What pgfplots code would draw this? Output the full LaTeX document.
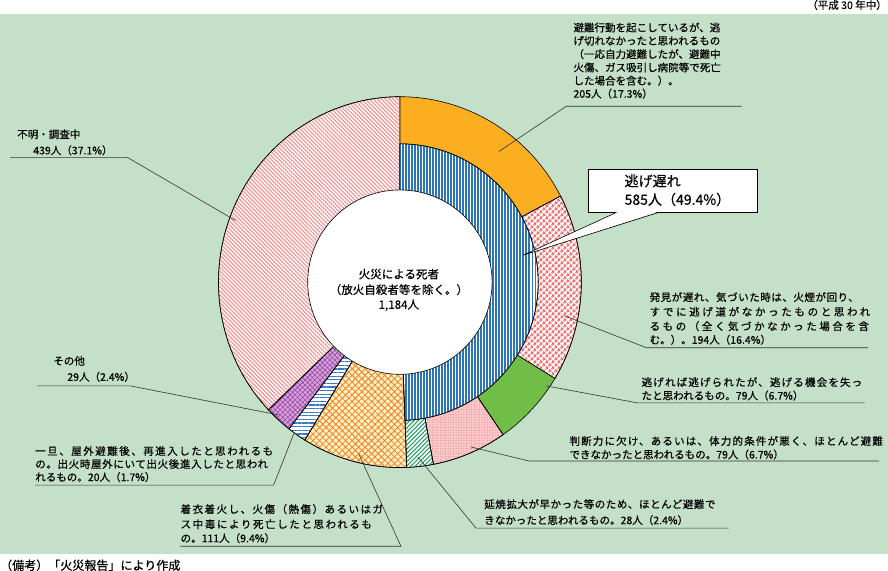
\documentclass[border=0pt]{standalone}
\usepackage{pgfplots}
\pgfplotsset{compat=1.18}
\usepackage{fontspec}
\setmainfont{Noto Sans CJK JP}[FakeBold=0.5]
\usetikzlibrary{patterns.meta}

\definecolor{bg}{RGB}{197,224,201}
\definecolor{cOrange}{RGB}{250,174,32}
\definecolor{cGreen}{RGB}{112,189,72}
\definecolor{cBlue}{RGB}{46,117,182}
\definecolor{cRed}{RGB}{240,100,100}
\definecolor{cPinkF}{RGB}{250,200,200}
\definecolor{cPinkD}{RGB}{238,120,120}
\definecolor{cTeal}{RGB}{34,158,96}
\definecolor{cOrF}{RGB}{255,240,190}
\definecolor{cOrL}{RGB}{245,128,40}
\definecolor{cBlue2}{RGB}{60,120,190}
\definecolor{cPurF}{RGB}{216,162,218}
\definecolor{cPurL}{RGB}{150,70,165}
\definecolor{cPale}{RGB}{244,150,150}

% counts (persons)
\def\nA{205}\def\nB{194}\def\nC{79}\def\nD{79}\def\nE{28}
\def\nF{111}\def\nG{20}\def\nH{29}\def\nI{439}
\def\nInner{585}
\def\nTot{1184}

% start angle, end angle, x radius, y radius, style
\newcommand{\slice}[5]{%
  \addplot[#5, line width=0.6pt, domain=#1:#2, samples=90, variable=\t]
    ({399+#3*sin(\t)},{288.5-#4*cos(\t)}) -- (axis cs:399,288.5) -- cycle;}
\newcommand{\lsp}[1]{\addfontfeature{LetterSpace=#1}}

\begin{document}
\begin{tikzpicture}
\pgfmathsetmacro{\cA}{\nA/\nTot*360}
\pgfmathsetmacro{\cB}{(\nA+\nB)/\nTot*360}
\pgfmathsetmacro{\cC}{(\nA+\nB+\nC)/\nTot*360}
\pgfmathsetmacro{\cD}{(\nA+\nB+\nC+\nD)/\nTot*360}
\pgfmathsetmacro{\cE}{(\nA+\nB+\nC+\nD+\nE)/\nTot*360}
\pgfmathsetmacro{\cF}{(\nA+\nB+\nC+\nD+\nE+\nF)/\nTot*360}
\pgfmathsetmacro{\cG}{(\nA+\nB+\nC+\nD+\nE+\nF+\nG)/\nTot*360}
\pgfmathsetmacro{\cH}{(\nA+\nB+\nC+\nD+\nE+\nF+\nG+\nH)/\nTot*360}
\pgfmathsetmacro{\cI}{(\nA+\nB+\nC+\nD+\nE+\nF+\nG+\nH+\nI)/\nTot*360}
\pgfmathsetmacro{\cIn}{\nInner/\nTot*360}
\begin{axis}[width=888pt, height=582pt, scale only axis,
  xmin=0, xmax=888, ymin=0, ymax=582, y dir=reverse,
  axis lines=none, clip=false]
\fill[bg] (axis cs:0,21) rectangle (axis cs:886,560);

% outer ring
\slice{0}{\cA}{181}{185}{draw=black, fill=cOrange}
\slice{\cA}{\cB}{181}{185}{draw=black, fill=white, postaction={pattern={Dots[radius=1.6pt,distance=4pt,angle=45]}, pattern color=cRed}}
\slice{\cB}{\cC}{181}{185}{draw=black, fill=cGreen}
\slice{\cC}{\cD}{181}{185}{draw=black, fill=cPinkF, postaction={pattern={Dots[radius=0.5pt,distance=2.6pt]}, pattern color=cPinkD}}
\slice{\cD}{\cE}{181}{185}{draw=black, fill=white, postaction={pattern={Lines[angle=45,distance=3pt,line width=1pt]}, pattern color=cTeal}}
\slice{\cE}{\cF}{181}{185}{draw=black, fill=cOrF, postaction={pattern={Hatch[angle=45,distance=4.6pt,line width=0.8pt]}, pattern color=cOrL}}
\slice{\cF}{\cG}{181}{185}{draw=black, fill=white, postaction={pattern={Lines[angle=0,distance=3.6pt,line width=1.3pt]}, pattern color=cBlue2}}
\slice{\cG}{\cH}{181}{185}{draw=black, fill=cPurF, postaction={pattern={Hatch[angle=45,distance=3.5pt,line width=0.6pt]}, pattern color=cPurL}}
\slice{\cH}{\cI}{181}{185}{draw=black, fill=white, postaction={pattern={Lines[angle=-45,distance=2.8pt,line width=1.2pt]}, pattern color=cPale}}
% inner band (nige-okure)
\slice{0}{\cIn}{138}{138}{draw=black, fill=white, postaction={pattern={Lines[angle=90,distance=3pt,line width=1.4pt]}, pattern color=cBlue}}
% centre hole
\addplot[draw=black, fill=white, line width=0.6pt, domain=0:360, samples=120, variable=\t]
  ({399+92*sin(\t)},{288.5-92*cos(\t)}) -- cycle;

% centre text
\node[font=\fontsize{11.5}{13}\selectfont, inner sep=0] at (axis cs:398,280.5) {火災による死者};
\node[font=\fontsize{11.5}{13}\selectfont, inner sep=0] at (axis cs:398,296) {（放火自殺者等を除く。）};
\node[font=\fontsize{11.5}{13}\selectfont, inner sep=0] at (axis cs:398,311.5) {1,184人};

% top/bottom notes
\node[font=\fontsize{10.5}{12}\selectfont, inner sep=0, anchor=east] at (axis cs:885,12) {（平成 30 年中）};
\node[font=\fontsize{12}{14}\selectfont, inner sep=0, anchor=west] at (axis cs:0,571) {（備考）「火災報告」により作成};

\tikzset{lab/.style={font=\fontsize{10.5}{12}\selectfont, inner sep=0, anchor=west},
         ldr/.style={line width=0.6pt, black!80}}

% 205
\node[lab] at (axis cs:572,34.5) {避難行動を起こしているが、逃};
\node[lab] at (axis cs:572,47.8) {げ切れなかったと思われるもの};
\node[lab] at (axis cs:572,61) {（一応自力避難したが、避難中};
\node[lab] at (axis cs:572,74.3) {火傷、ガス吸引し病院等で死亡};
\node[lab] at (axis cs:572,87.5) {した場合を含む。）。};
\node[lab] at (axis cs:572,100.5) {205人（17.3\%）};
\draw[ldr] (axis cs:498,158) -- (axis cs:565,113) -- (axis cs:740,113);

% 585 callout
\draw[line width=0.6pt, fill=white] (axis cs:587,176) rectangle (axis cs:756,219);
\fill[white] (axis cs:615.6,218.4) -- (axis cs:521.7,261.7) -- (axis cs:656.4,218.4) -- cycle;
\draw[line width=0.6pt] (axis cs:615,219) -- (axis cs:521.7,261.7) -- (axis cs:657,219);
\node[font=\fontsize{14}{16}\selectfont, inner sep=0, anchor=west] at (axis cs:623,187.5) {逃げ遅れ};
\node[font=\fontsize{14}{16}\selectfont, inner sep=0, anchor=west] at (axis cs:623,206) {585人（49.4\%）};

% 194
\node[lab] at (axis cs:648,303.5) {\lsp{5}発見が遅れ、気づいた時は、火煙が回り、};
\node[lab] at (axis cs:648,318) {\lsp{25}すでに逃げ道がなかったものと思われ};
\node[lab] at (axis cs:648,332.5) {\lsp{24}るもの（全く気づかなかった場合を含};
\node[lab] at (axis cs:648,346) {む。）。194人（16.4\%）};
\draw[ldr] (axis cs:563,322) -- (axis cs:645,354) -- (axis cs:866,354);

% 79 green
\node[lab] at (axis cs:640,388.3) {\lsp{11}逃げれば逃げられたが、逃げる機会を失っ};
\node[lab] at (axis cs:640,401.7) {たと思われるもの。79人（6.7\%）};
\draw[ldr] (axis cs:545,392) -- (axis cs:636,409) -- (axis cs:863,409);

% 79 pink
\node[lab] at (axis cs:568,447) {\lsp{11}判断力に欠け、あるいは、体力的条件が悪く、ほとんど避難};
\node[lab] at (axis cs:568,460.5) {できなかったと思われるもの。79人（6.7\%）};
\draw[ldr] (axis cs:470,453) -- (axis cs:528,467) -- (axis cs:877,467);

% 28
\node[lab] at (axis cs:483,510) {\lsp{5}延焼拡大が早かった等のため、ほとんど避難で};
\node[lab] at (axis cs:483,526) {きなかったと思われるもの。28人（2.4\%）};
\draw[ldr] (axis cs:417,463) -- (axis cs:475,534) -- (axis cs:727,534);

% 111
\node[lab] at (axis cs:180,515) {\lsp{14}着衣着火し、火傷（熱傷）あるいはガ};
\node[lab] at (axis cs:180,530) {\lsp{15}ス中毒により死亡したと思われるも};
\node[lab] at (axis cs:180,544) {の。111人（9.4\%）};
\draw[ldr] (axis cs:358,460) -- (axis cs:400,552) -- (axis cs:180,552);

% 20
\node[lab] at (axis cs:35,457) {\lsp{14}一旦、屋外避難後、再進入したと思われるも};
\node[lab] at (axis cs:35,470) {\lsp{6}の。出火時屋外にいて出火後進入したと思われ};
\node[lab] at (axis cs:35,483) {れるもの。20人（1.7\%）};
\draw[ldr] (axis cs:293,440) -- (axis cs:273,491) -- (axis cs:35,491);

% 29
\node[lab] at (axis cs:53,367) {その他};
\node[lab] at (axis cs:67,383) {29人（2.4\%）};
\draw[ldr] (axis cs:278,421) -- (axis cs:130,392) -- (axis cs:37,392);

% 439
\node[lab] at (axis cs:17,141) {不明・調査中};
\node[lab] at (axis cs:33,157) {439人（37.1\%）};
\draw[ldr] (axis cs:235,227) -- (axis cs:127,164) -- (axis cs:10,164);

\end{axis}
\end{tikzpicture}
\end{document}
